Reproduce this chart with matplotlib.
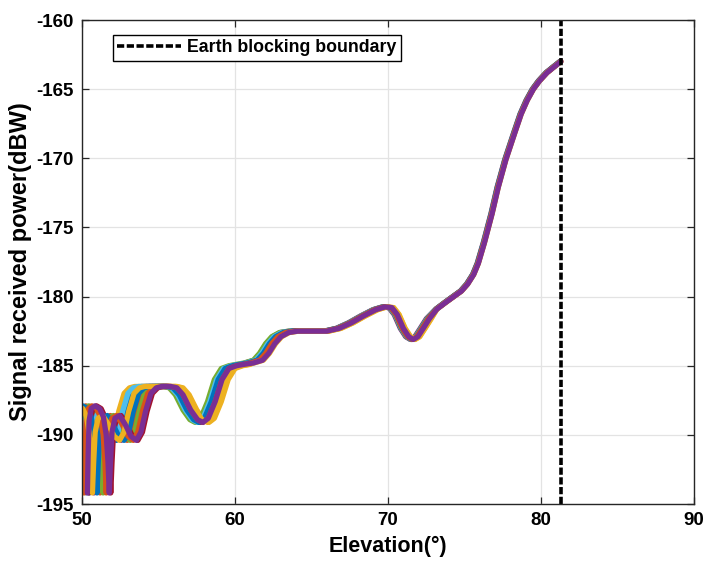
import matplotlib
matplotlib.use('Agg')
import matplotlib.pyplot as plt
import numpy as np

plt.rcParams['font.family'] = ['Liberation Sans', 'DejaVu Sans']
plt.rcParams['font.weight'] = 'bold'
plt.rcParams['axes.unicode_minus'] = False

# purple (top) curve, split at the flat parts
seg_a_elev = [50.35, 50.40, 50.46, 50.60, 50.85, 51.15, 51.40, 51.58, 51.70, 51.78, 51.86, 51.96,
              52.15, 52.45, 52.80, 53.20, 53.55, 53.85, 54.15, 54.50, 54.85, 55.20]
seg_a_pow = [-194.2, -191.5, -189.0, -188.1, -187.9, -188.1, -188.7, -190.0, -192.0, -194.2, -192.0, -189.8,
             -188.8, -188.6, -189.2, -190.1, -190.4, -189.8, -188.3, -187.0, -186.6, -186.5]
seg_b_elev = [55.80, 56.20, 56.60, 57.10, 57.55, 57.90, 58.25, 58.70, 59.15, 59.60, 60.10, 60.60]
seg_b_pow = [-186.5, -186.6, -187.1, -188.2, -188.9, -189.1, -188.8, -187.6, -186.0, -185.2, -185.0, -184.9]
seg_c_elev = [61.20, 61.80, 62.20, 62.60, 63.00, 63.50, 64.10, 65.00]
seg_c_pow = [-184.8, -184.6, -184.1, -183.4, -182.9, -182.6, -182.5, -182.5]
seg_d_elev = [66.00, 66.80, 67.60, 68.40, 69.20, 69.80, 70.25, 70.60, 71.00, 71.35, 71.65, 71.95, 72.30, 72.70]
seg_d_pow = [-182.5, -182.3, -181.9, -181.4, -180.95, -180.75, -180.8, -181.3, -182.3, -182.9, -183.1, -182.9,
             -182.3, -181.6]
seg_e_elev = [73.20, 73.80, 74.30, 74.80, 75.20, 75.60, 75.90, 76.30, 76.80, 77.20, 77.70, 78.30, 78.70,
              79.10, 79.50, 79.90, 80.40, 80.90, 81.30]
seg_e_pow = [-180.9, -180.4, -180.0, -179.6, -179.1, -178.4, -177.6, -176.1, -174.0, -172.1, -170.1, -168.1,
             -166.8, -165.8, -165.0, -164.4, -163.8, -163.35, -163.0]

# elevation offset of each curve against the top one, per part
curve_colors = ['#0072BD', '#D95319', '#EDB120', '#7E2F8E', '#77AC30', '#4DBEEE', '#A2142F',
                '#0072BD', '#D95319', '#EDB120', '#7A2E94']
shift_a = [-1.30, -0.60, -1.75, -1.00, -0.40, -1.50, 0.10, -0.80, -0.20, -1.10, 0.0]
shift_b = [-0.30, -0.20, 0.40, -0.10, -0.50, -0.35, -0.15, -0.25, 0.00, 0.30, 0.0]
shift_c = [-0.40, -0.30, -0.10, -0.55, -0.60, -0.45, -0.25, -0.35, -0.20, 0.05, 0.0]
shift_d = [-0.15, -0.10, 0.10, -0.20, -0.15, -0.12, -0.05, -0.10, -0.08, 0.12, 0.0]
shift_e = [-0.05, -0.03, -0.02, -0.08, -0.06, -0.05, -0.04, -0.05, -0.03, 0.0, 0.0]

boundary_elev = 81.3

fig = plt.figure(figsize=(7.04, 5.62), dpi=100)
ax = fig.add_axes([0.1165, 0.1032, 0.8695, 0.8612])

pow_all = seg_a_pow + seg_b_pow + seg_c_pow + seg_d_pow + seg_e_pow
for i in range(len(curve_colors)):
    x = np.concatenate([np.array(seg_a_elev) + shift_a[i], np.array(seg_b_elev) + shift_b[i],
                        np.array(seg_c_elev) + shift_c[i], np.array(seg_d_elev) + shift_d[i],
                        np.array(seg_e_elev) + shift_e[i]])
    ax.plot(x, pow_all, color=curve_colors[i], lw=3.8, solid_joinstyle='round', solid_capstyle='round')

ax.axvline(boundary_elev, color='black', lw=2.6, linestyle=(0, (2.0, 0.7)), label='Earth blocking boundary')

ax.set_xlim(50, 90)
ax.set_ylim(-195, -160)
ax.set_xticks([50, 60, 70, 80, 90])
ax.set_yticks(np.arange(-195, -159, 5))
ax.grid(True, color='#E3E3E3', lw=0.9)
ax.set_axisbelow(True)
ax.tick_params(direction='in', top=True, right=True, labelsize=13.5, length=5, color='#262626', width=0.9,
               pad=6)
for s in ax.spines.values():
    s.set_color('#262626')
    s.set_linewidth(1.0)

ax.set_xlabel('Elevation(°)', fontsize=15.5, fontweight='bold', labelpad=5)
ax.set_ylabel('Signal received power(dBW)', fontsize=17, fontweight='bold', labelpad=3)

leg = ax.legend(loc='upper left', bbox_to_anchor=(0.0507, 0.969), borderaxespad=0, fancybox=False,
                edgecolor='black', framealpha=1, handlelength=3.6, handletextpad=0.3, borderpad=0.25,
                prop={'size': 12.8, 'weight': 'bold'})
leg.get_frame().set_linewidth(1.0)

fig.savefig('out.png', dpi=100)
